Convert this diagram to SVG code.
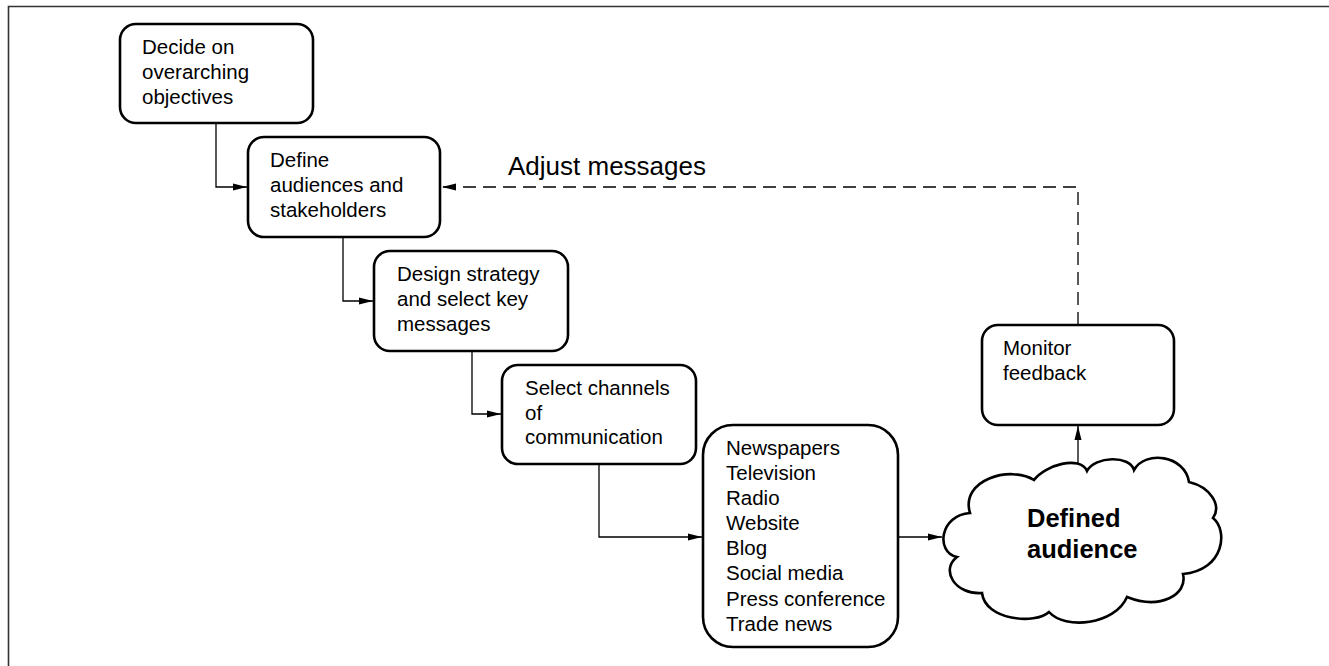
<svg xmlns="http://www.w3.org/2000/svg" width="1329" height="666" viewBox="0 0 1329 666">
<style>
.box{fill:#fff;stroke:#000;stroke-width:2.6}
.t{font-family:"Liberation Sans",Arial,sans-serif;font-size:20.5px;fill:#000}
.tb{font-family:"Liberation Sans",Arial,sans-serif;font-size:25.5px;font-weight:bold;fill:#000}
.c{fill:none;stroke:#000;stroke-width:1.3}
.d{fill:none;stroke:#000;stroke-width:1.3;stroke-dasharray:13 7}
</style>
<defs>
<marker id="ah" markerWidth="14" markerHeight="8" refX="14" refY="4" orient="auto" markerUnits="userSpaceOnUse">
<path d="M0,0.5 L14,4 L0,7.5 Z" fill="#000"/>
</marker>
</defs>
<rect width="1329" height="666" fill="#fff"/>
<path d="M8.5,666 V6.5 H1329" fill="none" stroke="#333" stroke-width="1.6"/>

<g id="connectors">
<path class="c" d="M216,123 V187 H247" marker-end="url(#ah)"/>
<path class="c" d="M343,237 V301 H373" marker-end="url(#ah)"/>
<path class="c" d="M472,351 V414 H501" marker-end="url(#ah)"/>
<path class="c" d="M599,464 V537 H702" marker-end="url(#ah)"/>
<path class="c" d="M898,537 H942" marker-end="url(#ah)"/>
<path class="c" d="M1078,467 V426" marker-end="url(#ah)"/>
<path class="d" d="M1078,325 V187 H442" marker-end="url(#ah)"/>
<text class="t" x="508" y="175" style="font-size:26px">Adjust messages</text>
</g>

<g id="n1">
<rect class="box" x="120" y="24" width="193" height="99" rx="16"/>
<text class="t" x="142" y="54">Decide on</text>
<text class="t" x="142" y="79">overarching</text>
<text class="t" x="142" y="104">objectives</text>
</g>
<g id="n2">
<rect class="box" x="248" y="137" width="192" height="100" rx="16"/>
<text class="t" x="270" y="167">Define</text>
<text class="t" x="270" y="192">audiences and</text>
<text class="t" x="270" y="217">stakeholders</text>
</g>
<g id="n3">
<rect class="box" x="374" y="251" width="194" height="100" rx="16"/>
<text class="t" x="397" y="281">Design strategy</text>
<text class="t" x="397" y="306">and select key</text>
<text class="t" x="397" y="331">messages</text>
</g>
<g id="n4">
<rect class="box" x="502" y="365" width="194" height="99" rx="16"/>
<text class="t" x="525" y="395">Select channels</text>
<text class="t" x="525" y="420">of</text>
<text class="t" x="525" y="444">communication</text>
</g>
<g id="n5">
<rect class="box" x="703" y="425" width="195" height="222" rx="30"/>
<text class="t" x="726" y="455">Newspapers</text>
<text class="t" x="726" y="480">Television</text>
<text class="t" x="726" y="505">Radio</text>
<text class="t" x="726" y="530">Website</text>
<text class="t" x="726" y="555">Blog</text>
<text class="t" x="726" y="580">Social media</text>
<text class="t" x="726" y="606">Press conference</text>
<text class="t" x="726" y="631">Trade news</text>
</g>
<g id="n6">
<path class="box" d="M970,513 C960,480 1010,465 1034,480 C1045,465 1080,455 1087,471 C1095,456 1130,455 1134,470 C1145,450 1185,455 1189,482 C1210,487 1222,505 1213,518 C1228,530 1225,570 1183,574 C1188,595 1160,610 1127,597 C1115,625 1065,630 1049,612 C1035,625 985,620 982,593 C955,595 940,570 957,557 C935,552 940,515 970,513 Z"/>
<text class="tb" x="1027" y="527">Defined</text>
<text class="tb" x="1027" y="558">audience</text>
</g>
<g id="n7">
<rect class="box" x="982" y="325" width="192" height="100" rx="16"/>
<text class="t" x="1003" y="355">Monitor</text>
<text class="t" x="1003" y="380">feedback</text>
</g>
</svg>
